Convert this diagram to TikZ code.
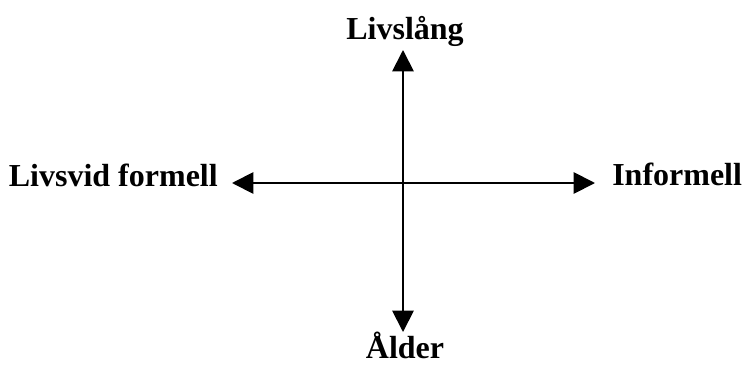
\documentclass[tikz,border=0pt]{standalone}
\usepackage{fontspec}
\setmainfont{Liberation Serif}
\usetikzlibrary{arrows.meta}
\begin{document}
\begin{tikzpicture}[x=0.75pt, y=-0.75pt]

      \tikzset{axislabel/.style={inner sep=0pt, font=\bfseries\fontsize{24}{28}\selectfont}}
      \useasboundingbox (0,0) rectangle (742,364);
%% Ends of the axes
      	\coordinate (top) at (403,50);
      	\coordinate (bottom) at (403,332);
      	\coordinate (left) at (232,183);
      	\coordinate (right) at (595,183);
%% Labels
      	\node[axislabel, anchor=base] (livslang) at (405,39) {Livslång};
      	\node[axislabel, anchor=base east] (livsvid) at (218,186) {Livsvid formell};
      	\node[axislabel, anchor=base west] (informell) at (612,185) {Informell};
      	\node[axislabel, anchor=base] (alder) at (405,358) {Ålder};
%Axes
		\path [<->, > = {Triangle[length=16pt, width=16pt]}, line width=1.4pt] (top) edge (bottom);
		\path [<->, > = {Triangle[length=16pt, width=16pt]}, line width=1.4pt] (left) edge (right);

	\end{tikzpicture}
\end{document}
